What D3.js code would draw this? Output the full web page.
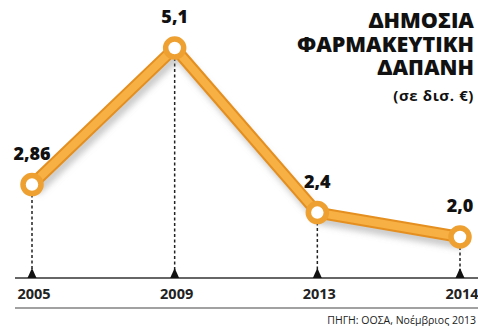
<!DOCTYPE html>
<html>
<head>
<meta charset="utf-8">
<script src="https://cdn.jsdelivr.net/npm/d3@7"></script>
<style>
  html, body { margin: 0; padding: 0; background: #fff; }
  svg { display: block; }
</style>
</head>
<body>
<div id="chart"></div>
<script>
var years = ["2005", "2009", "2013", "2014"];
var values = [2.86, 5.1, 2.4, 2.0];
var valueLabels = ["2,86", "5,1", "2,4", "2,0"];
var titleLines = ["ΔΗΜΟΣΙΑ", "ΦΑΡΜΑΚΕΥΤΙΚΗ", "ΔΑΠΑΝΗ"];
var subtitle = "(σε δισ. €)";
var source = "ΠΗΓΗ: ΟΟΣΑ, Νοέμβριος 2013";

var width = 478,
  height = 326,
  axisY = 278,
  bottomY = 308;

var data = years.map(function (y, i) {
  return { year: y, value: values[i], label: valueLabels[i] };
});

var svg = d3
  .select("#chart")
  .append("svg")
  .attr("width", width)
  .attr("height", height);

var x = d3.scalePoint().domain(years).range([32, 460]);
var y = d3.scaleLinear().domain([2.0, 5.1]).range([237, 48]);

// shadow filter
var defs = svg.append("defs");
var f = defs.append("filter").attr("id", "blur").attr("x", "-10%").attr("y", "-20%").attr("width", "120%").attr("height", "140%");
f.append("feGaussianBlur").attr("stdDeviation", 3);

var font = "'Open Sans', 'DejaVu Sans', sans-serif";

// title, one text block with tspans
var title = svg
  .append("text")
  .attr("text-anchor", "end")
  .attr("font-family", font)
  .attr("font-weight", 800)
  .attr("font-size", 21.5)
  .attr("fill", "#111");
title
  .selectAll("tspan")
  .data(titleLines)
  .join("tspan")
  .attr("x", 474)
  .attr("y", (d, i) => 28 + i * 23.5)
  .text((d) => d);

svg
  .append("text")
  .attr("x", 474)
  .attr("y", 101)
  .attr("text-anchor", "end")
  .attr("font-family", font)
  .attr("font-weight", 700)
  .attr("font-size", 15)
  .attr("letter-spacing", 0.6)
  .attr("fill", "#111")
  .text(subtitle);

// axis lines
svg.append("line")
  .attr("x1", 15).attr("x2", width)
  .attr("y1", axisY).attr("y2", axisY)
  .attr("stroke", "#333").attr("stroke-width", 1.5);
svg.append("line")
  .attr("x1", 15).attr("x2", width)
  .attr("y1", bottomY).attr("y2", bottomY)
  .attr("stroke", "#444").attr("stroke-width", 1.2);

// dashed drop lines
svg.append("g")
  .selectAll("line")
  .data(data)
  .join("line")
  .attr("x1", (d) => x(d.year))
  .attr("x2", (d) => x(d.year))
  .attr("y1", (d) => y(d.value) + 10)
  .attr("y2", axisY - 6)
  .attr("stroke", "#222")
  .attr("stroke-width", 1.5)
  .attr("stroke-dasharray", "3,2.5");

// triangles
svg.append("g")
  .selectAll("path")
  .data(data)
  .join("path")
  .attr("d", (d) => {
    var cx = x(d.year);
    return `M${cx - 4.5},${axisY} L${cx},${axisY - 10} L${cx + 4.5},${axisY} Z`;
  })
  .attr("fill", "#111");

// year labels
svg.append("g")
  .selectAll("text")
  .data(data)
  .join("text")
  .attr("x", (d) => x(d.year) + 2)
  .attr("y", 299)
  .attr("text-anchor", "middle")
  .attr("font-family", font)
  .attr("font-weight", 700)
  .attr("font-size", 14.5)
  .attr("fill", "#222")
  .text((d) => d.year);

// line
var line = d3.line().x((d) => x(d.year)).y((d) => y(d.value));

svg.append("path")
  .datum(data)
  .attr("d", line)
  .attr("transform", "translate(3,7)")
  .attr("fill", "none")
  .attr("stroke", "#888")
  .attr("stroke-opacity", 0.45)
  .attr("stroke-width", 10)
  .attr("filter", "url(#blur)");

svg.append("path")
  .datum(data)
  .attr("d", line)
  .attr("fill", "none")
  .attr("stroke", "#e48f1f")
  .attr("stroke-width", 12)
  .attr("stroke-linejoin", "round");

svg.append("path")
  .datum(data)
  .attr("d", line)
  .attr("fill", "none")
  .attr("stroke", "#f6b043")
  .attr("stroke-width", 8)
  .attr("stroke-linejoin", "round");

// markers
svg.append("g")
  .selectAll("circle")
  .data(data)
  .join("circle")
  .attr("cx", (d) => x(d.year))
  .attr("cy", (d) => y(d.value))
  .attr("r", 9)
  .attr("fill", "#fff")
  .attr("stroke", "#eea030")
  .attr("stroke-width", 5.5);

// value labels
svg.append("g")
  .selectAll("text")
  .data(data)
  .join("text")
  .attr("x", (d) => x(d.year))
  .attr("y", (d) => y(d.value) - 25)
  .attr("text-anchor", "middle")
  .attr("font-family", font)
  .attr("font-weight", 800)
  .attr("font-size", 18)
  .attr("fill", "#111")
  .text((d) => d.label);

// source
svg.append("text")
  .attr("x", 476)
  .attr("y", 324)
  .attr("text-anchor", "end")
  .attr("font-family", font)
  .attr("font-size", 10.5)
  .attr("fill", "#222")
  .text(source);
</script>
</body>
</html>
